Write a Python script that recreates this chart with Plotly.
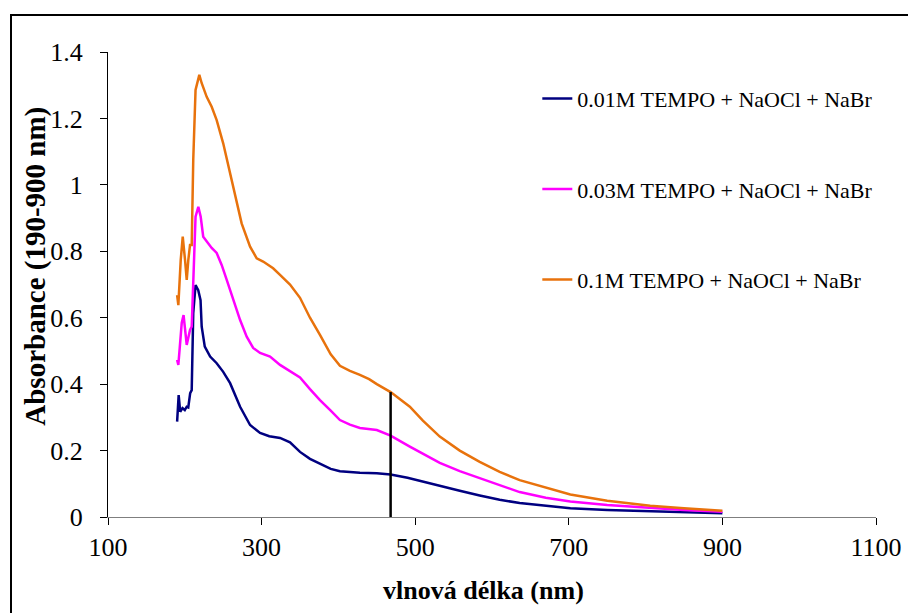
import plotly.graph_objects as go

# UV-Vis absorbance spectra (190-900 nm) of TEMPO / NaOCl / NaBr solutions
wl_001 = [190, 192, 194, 197, 200, 202.5, 204.5, 207, 209, 211, 214, 217.5, 220.5, 222, 226,
          233, 241.5, 250, 259, 272, 285, 298, 310, 324, 337, 350, 363, 376, 390, 402, 428,
          450, 468, 490, 510, 532, 558, 584, 610, 636, 670, 702, 750, 806, 850, 900]
abs_001 = [0.287, 0.367, 0.317, 0.328, 0.322, 0.332, 0.330, 0.373, 0.382, 0.614, 0.698, 0.683,
           0.653, 0.573, 0.513, 0.483, 0.463, 0.437, 0.403, 0.332, 0.277, 0.253, 0.243, 0.238,
           0.225, 0.196, 0.175, 0.160, 0.145, 0.138, 0.133, 0.132, 0.128, 0.118, 0.106, 0.095,
           0.079, 0.065, 0.052, 0.042, 0.033, 0.026, 0.021, 0.017, 0.014, 0.011]

wl_003 = [190, 191.6, 196, 198.4, 202.5, 206.8, 209, 211, 214, 217.6, 220.7, 224, 228.5, 235,
          241.5, 248, 254.6, 263, 272, 280.6, 289, 298, 311, 324, 337, 350, 363, 376, 390, 402,
          415, 428, 450, 468, 493, 532, 558, 584, 610, 636, 670, 702, 750, 806, 850, 900]
abs_003 = [0.473, 0.458, 0.584, 0.608, 0.518, 0.563, 0.573, 0.735, 0.904, 0.934, 0.904, 0.844,
           0.829, 0.810, 0.795, 0.759, 0.714, 0.653, 0.593, 0.543, 0.509, 0.494, 0.483, 0.458,
           0.440, 0.420, 0.385, 0.352, 0.320, 0.292, 0.278, 0.268, 0.262, 0.245, 0.212, 0.163,
           0.138, 0.117, 0.095, 0.075, 0.058, 0.047, 0.036, 0.027, 0.021, 0.016]

wl_01 = [190, 191.6, 194.7, 197.3, 200.3, 202.5, 204.6, 206.8, 209, 211, 214, 218.9, 222,
         228.5, 235, 241.5, 250, 259, 267.6, 274, 285, 293.6, 302, 315, 324, 337, 350, 363,
         376, 390, 402, 415, 428, 440, 450, 468, 493, 510, 532, 558, 584, 610, 636, 670, 702,
         750, 806, 850, 900]
abs_01 = [0.668, 0.638, 0.774, 0.844, 0.774, 0.714, 0.774, 0.819, 0.819, 1.075, 1.286, 1.331,
          1.306, 1.265, 1.235, 1.195, 1.125, 1.035, 0.944, 0.884, 0.814, 0.779, 0.769, 0.749,
          0.729, 0.700, 0.660, 0.600, 0.548, 0.490, 0.455, 0.440, 0.428, 0.415, 0.400, 0.376,
          0.332, 0.290, 0.242, 0.200, 0.166, 0.136, 0.111, 0.088, 0.068, 0.049, 0.034, 0.026,
          0.019]

# vertical marker at ~468 nm
marker_wl = [468, 468]
marker_abs = [0, 0.376]

series_names = ["0.01M TEMPO + NaOCl + NaBr",
                "0.03M TEMPO + NaOCl + NaBr",
                "0.1M TEMPO + NaOCl + NaBr"]
series_colors = ["#000080", "#FF00FF", "#E8720C"]

x_ticks = [100, 300, 500, 700, 900, 1100]
y_ticks = [0, 0.2, 0.4, 0.6, 0.8, 1, 1.2, 1.4]
y_tick_text = ["0", "0.2", "0.4", "0.6", "0.8", "1", "1.2", "1.4"]

x_title = "vlnová délka (nm)"
y_title = "Absorbance (190-900 nm)"

FONT = "Liberation Serif"

fig = go.Figure()
for i, (wx, ay) in enumerate([(wl_001, abs_001), (wl_003, abs_003), (wl_01, abs_01)]):
    fig.add_trace(go.Scatter(
        x=wx, y=ay, mode="lines", name=series_names[i],
        line=dict(color=series_colors[i], width=2.5),
        legendgroup=f"g{i}",
    ))

fig.add_trace(go.Scatter(
    x=marker_wl, y=marker_abs, mode="lines", showlegend=False,
    line=dict(color="black", width=2.5),
))

fig.update_layout(
    width=908, height=613,
    margin=dict(l=108, r=32, t=52, b=96),
    paper_bgcolor="white", plot_bgcolor="white",
    font=dict(family=FONT, color="black", size=26),
    showlegend=True,
    legend=dict(
        x=0.559, y=0.945, xanchor="left", yanchor="top",
        font=dict(family=FONT, size=22, color="black"),
        bgcolor="rgba(0,0,0,0)", borderwidth=0,
        traceorder="grouped", tracegroupgap=59,
    ),
    shapes=[dict(
        type="rect", xref="paper", yref="paper",
        x0=-0.1263, x1=1.06, y0=-0.25, y1=1.0796,
        line=dict(color="black", width=2), fillcolor="rgba(0,0,0,0)", layer="below",
    )],
    annotations=[
        dict(text=f"<b>{x_title}</b>", xref="paper", yref="paper",
             x=0.489, y=-0.157, xanchor="center", yanchor="middle", showarrow=False,
             font=dict(family=FONT, size=26, color="black")),
        dict(text=f"<b>{y_title}</b>", xref="paper", yref="paper", textangle=-90,
             x=-0.094, y=0.54, xanchor="center", yanchor="middle", showarrow=False,
             font=dict(family=FONT, size=29, color="black")),
    ],
)

fig.update_xaxes(
    range=[100, 1100], tickvals=x_ticks, ticks="outside", ticklen=7, tickwidth=1,
    tickcolor="black", showline=True, linecolor="#7f7f7f", linewidth=1,
    showgrid=False, zeroline=False, automargin=False,
    tickfont=dict(family=FONT, size=26),
)
fig.update_yaxes(
    range=[0, 1.4], tickvals=y_ticks, ticktext=y_tick_text, ticks="outside", ticklen=7,
    tickwidth=1, tickcolor="black", showline=True, linecolor="black", linewidth=1,
    showgrid=False, zeroline=False, automargin=False, ticklabelstandoff=12,
    tickfont=dict(family=FONT, size=26),
)

fig.write_html("out.html")
